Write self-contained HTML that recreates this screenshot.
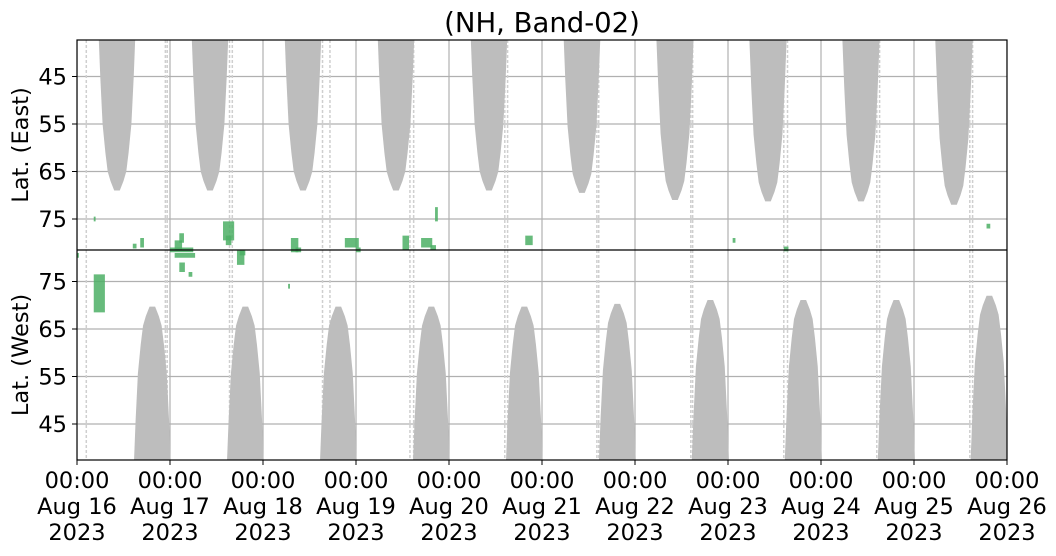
<!DOCTYPE html>
<html><head><meta charset="utf-8"><style>
body{margin:0;background:#fff}
svg{display:block;font-family:"DejaVu Sans","Liberation Sans",sans-serif}
</style></head><body>
<svg id="c" width="1056" height="556"></svg>
<script>
const dayLabels=["Aug 16","Aug 17","Aug 18","Aug 19","Aug 20","Aug 21","Aug 22","Aug 23","Aug 24","Aug 25","Aug 26"];
const latTicks=[45,55,65,75];
// gray (no-data) blob centers in day fraction, tip latitudes
const eastCenters=[0.43,1.43,2.43,3.43,4.43,5.43,6.43,7.43,8.43,9.43];
const eastTips=[69,69,69,69,69,69.5,71,71.3,71.3,72];
const westCenters=[0.81,1.81,2.81,3.81,4.81,5.81,6.81,7.81,8.81,9.81];
const westTips=[69.7,69.7,69.7,69.7,69.7,70.3,71.1,71.1,71.1,72];
// blob half-width (days) by lat offset from tip
const blobOffsets=[0,1,2,4,8,14,24,34,48];
const blobHalfW=[0.03,0.05,0.07,0.1,0.125,0.155,0.18,0.2,0.22];
// gap lines (day positions)
const gapDays=[0.1,0.95,0.97,1.64,1.67,2.64,2.72,3.58,3.62,4.6,4.63,5.59,5.61,6.6,6.62,7.6,7.64,8.6,8.63,9.6,9.63];
// green detections: [day, lat, widthDays, heightLat, panel 0=east 1=west]
const green=[
[0.18,74.5,0.02,1,0],[0.68,79,0.04,2,0],[0.6,80.2,0.04,1,0],[1.0,81,0.25,1,0],[1.05,79.5,0.08,2,0],[1.1,78,0.05,2,0],
[1.57,75.5,0.12,4,0],[1.6,78.5,0.06,2,0],[2.3,79,0.08,3,0],[2.35,81,0.06,1,0],
[2.88,79,0.15,2,0],[3.0,81,0.05,1,0],[3.5,78.5,0.07,3,0],[3.7,79,0.12,2,0],[3.8,80.5,0.06,1,0],
[3.85,72.5,0.03,3,0],[4.82,78.5,0.08,2,0],[7.05,79,0.03,1,0],[7.6,80.8,0.05,1,0],[9.78,76,0.04,1,0],
[0.0,80,0.02,1,1],[0.18,68.5,0.12,8,1],[1.05,80,0.22,1,1],[1.1,77,0.06,2,1],[1.2,76,0.04,1,1],
[1.72,78.5,0.08,3,1],[1.75,80.5,0.06,1,1],[2.27,73.5,0.02,1,1]
];
const L=77,R=1007,T=40,M=250,B=460,DW=(R-L)/10,PPD=4.75;
const svg=document.getElementById('c');const NS='http://www.w3.org/2000/svg';
function el(t,a,p){const e=document.createElementNS(NS,t);for(const k in a)e.setAttribute(k,a[k]);(p||svg).appendChild(e);return e;}
const xS=d=>L+d*DW;
const yE=lat=>76.5+(lat-45)*PPD;
const yW=lat=>424+(45-lat)*PPD;
const clip=el('clipPath',{id:'cp'});el('rect',{x:L,y:T,width:R-L,height:B-T},clip);
const g=el('g',{'clip-path':'url(#cp)'});
for(let i=0;i<=10;i++){const l=el('line',{x1:xS(i),x2:xS(i),y1:T,y2:B,stroke:'#b0b0b0','stroke-width':1.2},g);
}
latTicks.forEach(t=>{[yE(t),yW(t)].forEach(y=>{const l=el('line',{x1:L,x2:R,y1:y,y2:y,stroke:'#b0b0b0','stroke-width':1.2},g);
});});
gapDays.forEach(d=>{const l=el('line',{x1:xS(d),x2:xS(d),y1:T,y2:B,stroke:'#cfcfcf','stroke-width':1.5,'stroke-dasharray':'3,2'},g);
});
function blob(c,tip,ys,name){let left=[],right=[];
for(let i=0;i<blobOffsets.length;i++){const lat=tip-blobOffsets[i];const y=ys(lat);
left.push(xS(c-blobHalfW[i])+','+y);right.unshift(xS(c+blobHalfW[i])+','+y);}
const p=el('polygon',{points:left.concat(right).join(' '),fill:'#bdbdbd'},g);
}
eastCenters.forEach((c,i)=>blob(c,eastTips[i],yE,'east-nodata-region'));
westCenters.forEach((c,i)=>blob(c,westTips[i],yW,'west-nodata-region'));
green.forEach(a=>{const ys=a[4]?yW:yE;const y1=ys(a[1]),y2=ys(a[1]+a[3]);
const r=el('rect',{x:xS(a[0]),y:Math.min(y1,y2),width:a[2]*DW,height:Math.abs(y2-y1),fill:'#4caf65',opacity:0.85},g);
});
const f=el('rect',{x:L,y:T,width:R-L,height:B-T,fill:'none',stroke:'#000','stroke-width':1.2});

const ml=el('line',{x1:L,x2:R,y1:M,y2:M,stroke:'#000','stroke-width':1.2});

latTicks.forEach(t=>{[yE(t),yW(t)].forEach(y=>{el('line',{x1:L-5,x2:L,y1:y,y2:y,stroke:'#000'});
const tx=el('text',{x:L-10,y:y+8,'text-anchor':'end','font-size':22.5});tx.textContent=t;
});});
dayLabels.forEach((d,i)=>{const x=xS(i);el('line',{x1:x,x2:x,y1:B,y2:B+5,stroke:'#000'});
[['00:00',488],[d,514],['2023',540]].forEach(([s,y])=>{const tx=el('text',{x:x,y:y,'text-anchor':'middle','font-size':22.5});tx.textContent=s;
});});
const ti=el('text',{x:542,y:32,'text-anchor':'middle','font-size':27.5});ti.textContent='(NH, Band-02)';

const e1=el('text',{x:0,y:0,'text-anchor':'middle','font-size':22.5,transform:'translate(28,145) rotate(-90)'});e1.textContent='Lat. (East)';

const e2=el('text',{x:0,y:0,'text-anchor':'middle','font-size':22.5,transform:'translate(28,355) rotate(-90)'});e2.textContent='Lat. (West)';

</script>
</body></html>
